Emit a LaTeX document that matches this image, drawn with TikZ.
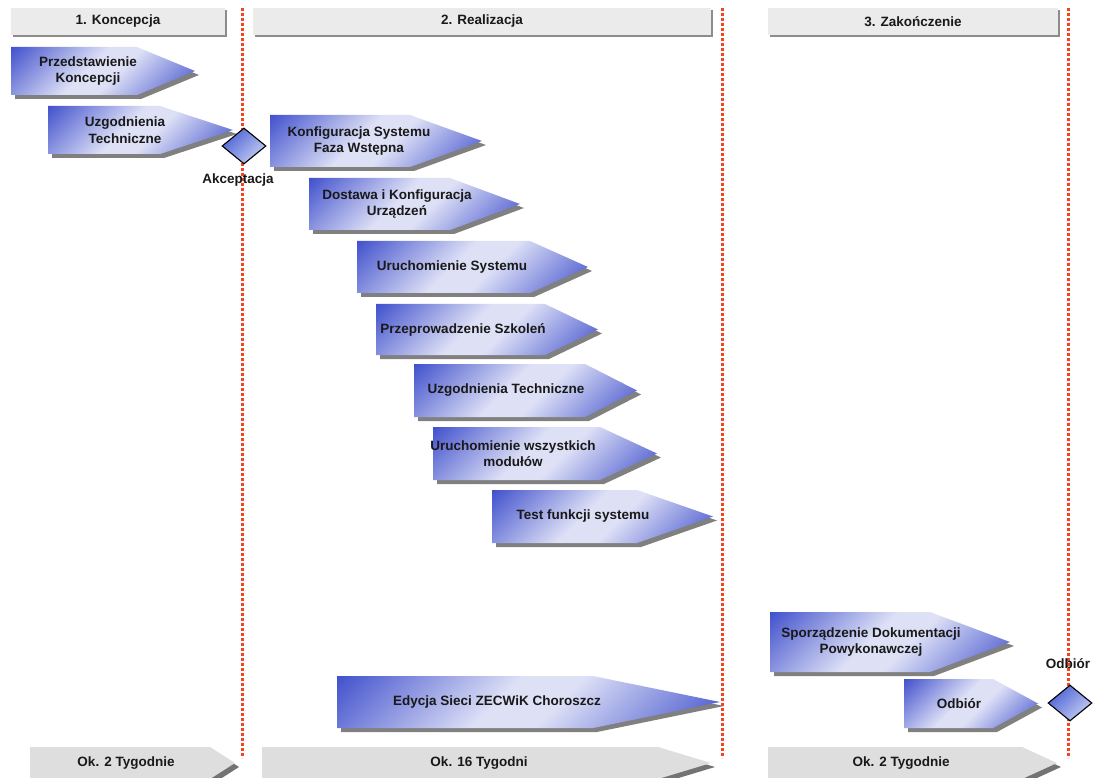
\documentclass[tikz,border=0pt]{standalone}
\usepackage{fontspec}
\setmainfont{Liberation Sans}
\usetikzlibrary{shapes.geometric}
\usetikzlibrary{shadows}
\definecolor{phasedark}{HTML}{3445C9}
\definecolor{phaselight}{HTML}{DEE1F6}
\definecolor{gatedark}{HTML}{4D64D6}
\definecolor{gatelight}{HTML}{C6CEF2}
\definecolor{headgray}{HTML}{EBEBEB}
\definecolor{weekgray}{HTML}{DEDEDE}
\definecolor{cutred}{HTML}{F6431F}
\pgfdeclareverticalshading{phaseshade}{100bp}{color(0bp)=(phasedark); color(12bp)=(phasedark); color(45bp)=(phaselight); color(55bp)=(phaselight); color(88bp)=(phasedark); color(100bp)=(phasedark)}

\tikzset{
  txt/.style={font=\fontsize{13.5}{16.5}\selectfont\bfseries, align=center, inner sep=0pt, text=black!90},
  phase/.style={shading=phaseshade, shading angle=45,
    drop shadow={shadow xshift=4pt, shadow yshift=-4pt, fill=black!50, opacity=1}},
  week/.style={fill=weekgray,
    drop shadow={shadow xshift=4pt, shadow yshift=-4pt, fill=black!55, opacity=1}},
  headbox/.style={txt, fill=headgray, minimum height=27pt,
    drop shadow={shadow xshift=2pt, shadow yshift=-2pt, fill=black!45, opacity=1}},
  gate/.style={diamond, draw, line width=1.1pt, top color=gatedark, bottom color=gatelight,
    shading angle=45, minimum width=44pt, minimum height=36pt, inner sep=0pt},
  cut/.style={cutred, line width=3pt, dash pattern=on 3pt off 2pt}
}

\begin{document}
\begin{tikzpicture}[x=1pt, y=-1pt]
  \useasboundingbox (0,0) rectangle (1093,778);

  % phase headers
  \node[headbox, minimum width=214pt] (h1) at (118,21.5) {1. Koncepcja};
  \node[headbox, minimum width=458pt] (h2) at (482,21.5) {2. Realizacja};
  \node[headbox, minimum width=290pt] (h3) at (913,21.5) {3. Zakończenie};

  % tasks: left/top/bottom/end of flat top/tip/text x/name/text
  \foreach \l/\t/\b/\f/\p/\c/\n/\s [evaluate=\t as \m using (\t+\b)/2] in {
      11/47/95/137/195/88/p1/Przedstawienie\\Koncepcji,
      48/106/154/160/233/125/p2/Uzgodnienia\\Techniczne,
      270/115/167/410/482/359/p3/Konfiguracja Systemu\\Faza Wstępna,
      309/178/230/450/520/397/p4/Dostawa i Konfiguracja\\Urządzeń,
      357/241/293/530/588/452/p5/Uruchomienie Systemu,
      376/304/355/545/598/463/p6/Przeprowadzenie Szkoleń,
      414/364/417/585/637/506/p7/Uzgodnienia Techniczne,
      433/427/480/600/657/513/p8/Uruchomienie wszystkich\\modułów,
      492/490/543/637/713/583/p9/Test funkcji systemu,
      770/612/672/930/1010/871/p10/Sporządzenie Dokumentacji\\Powykonawczej,
      904/679/728/993/1038/959/p11/Odbiór,
      337/676/728/593/720/497/p12/Edycja Sieci ZECWiK Choroszcz}{
    \path[phase] (\l,\t) -- (\f,\t) -- (\p,\m) -- (\f,\b) -- (\l,\b) -- cycle;
    \node[txt] (\n) at (\c,\m) {\s};
  }

  % durations
  \foreach \l/\f/\p/\c/\n/\s in {
      30/210/235/126/w1/Ok. 2 Tygodnie,
      262/658/711/479/w2/Ok. 16 Tygodni,
      768/1022/1057/901/w3/Ok. 2 Tygodnie}{
    \path[week] (\l,747) -- (\f,747) -- (\p,763) -- (\f,779) -- (\l,779) -- cycle;
    \node[txt] (\n) at (\c,763) {\s};
  }

  % phase borders
  \foreach \x [count=\k] in {242.5,722,1068}{
    \coordinate (cut\k top) at (\x,8);
    \coordinate (cut\k bot) at (\x,758);
    \draw[cut] (cut\k top) -- (cut\k bot);
  }

  % milestones
  \node[gate] (acc) at (244,146) {};
  \node[txt] (acclbl) at (238,180) {Akceptacja};
  \node[gate] (odb) at (1070,703) {};
  \node[txt] (odblbl) at (1068,664) {Odbiór};
\end{tikzpicture}
\end{document}
